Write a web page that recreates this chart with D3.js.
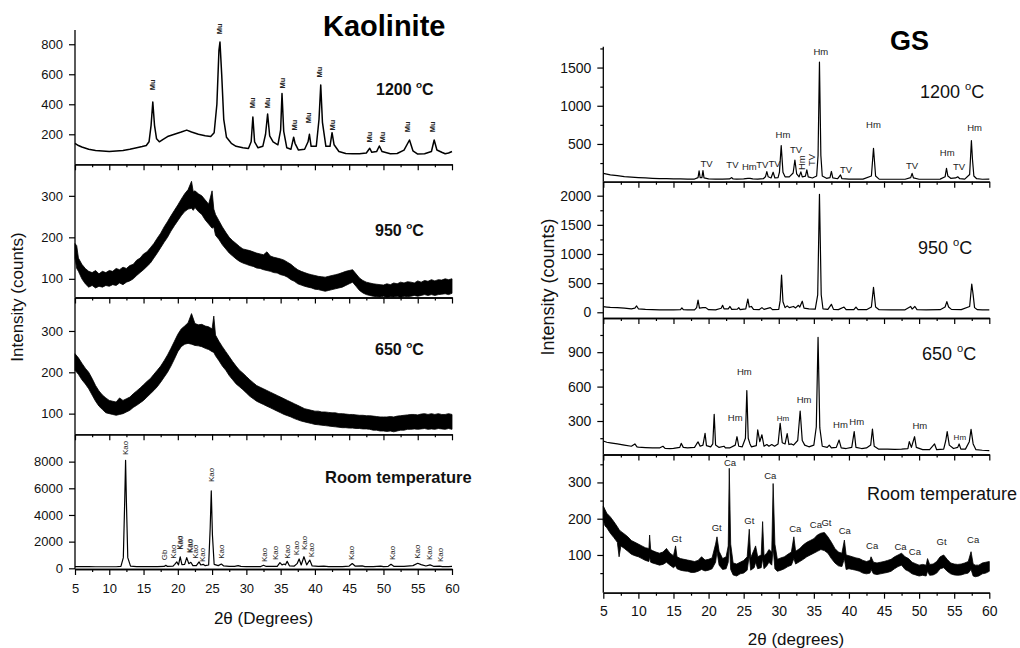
<!DOCTYPE html>
<html>
<head>
<meta charset="utf-8">
<script src="https://cdn.jsdelivr.net/npm/d3@7"></script>
<style>
  body { margin: 0; background: #fff; }
  text { font-family: Arial, "Liberation Sans", sans-serif; }
</style>
</head>
<body>
<svg id="chart" width="1020" height="648"></svg>
<script>
// ---- data (2theta in degrees, intensity in counts) ----
const xMajor = [5, 10, 15, 20, 25, 30, 35, 40, 45, 50, 55, 60];
const xMinor = [7.5, 12.5, 17.5, 22.5, 27.5, 32.5, 37.5, 42.5, 47.5, 52.5, 57.5];

// Kaolinite 1200 C
const kao1200 = [[5,140],[5.5,125],[6,115],[7,100],[8,92],[9,88],[10,85],[11,88],[12,92],[13,100],[14,110],[14.8,118],[15.4,125],[15.8,150],[16.1,260],[16.35,415],[16.6,260],[16.9,170],[17.3,150],[17.8,165],[18.5,185],[19.5,200],[20.5,215],[21.3,228],[22,215],[23,200],[24,190],[24.8,185],[25.3,210],[25.7,400],[26.0,760],[26.15,815],[26.4,600],[26.7,300],[27.1,180],[27.8,140],[28.5,120],[29.5,110],[30.3,105],[30.7,150],[30.95,315],[31.2,150],[31.7,110],[32.4,120],[32.8,200],[33.1,335],[33.4,190],[33.9,150],[34.6,130],[35.0,230],[35.2,472],[35.45,220],[35.9,110],[36.5,100],[36.9,180],[37.1,140],[37.6,95],[38.5,100],[39.0,150],[39.2,200],[39.45,120],[40.2,120],[40.6,300],[40.85,528],[41.1,280],[41.6,120],[42.2,120],[42.5,211],[42.8,130],[43.5,85],[44.5,72],[45.5,70],[46.5,70],[47.5,75],[48.0,107],[48.3,80],[49.0,85],[49.4,122],[49.8,85],[51,70],[52,72],[53,95],[53.8,162],[54.3,90],[55,68],[56,70],[57,85],[57.4,162],[57.8,95],[58.5,80],[59,70],[59.5,75],[60,85]];
const kao1200Labels = [[16.25,529,'Mu'],[26.15,902,'Mu'],[30.95,409,'Mu'],[33.1,409,'Mu'],[35.2,542,'Mu'],[37.0,262,'Mu'],[39.1,309,'Mu'],[40.7,615,'Mu'],[42.6,262,'Mu'],[48.0,182,'Mu'],[49.8,182,'Mu'],[53.5,249,'Mu'],[57.2,249,'Mu']];

// Kaolinite 950 C : noisy band [x, low, high]
const kao950 = [[5,150,185],[5.25,125,180],[5.5,118,150],[6,100,135],[6.5,88,125],[7,80,118],[7.5,84,115],[8,78,120],[8.5,82,112],[9,80,118],[9.5,84,115],[10,82,120],[10.5,86,118],[11,84,125],[11.5,90,122],[12,86,128],[12.5,92,125],[13,95,132],[13.5,100,135],[14,108,145],[14.5,115,150],[15,122,160],[15.5,130,165],[16,138,175],[16.5,150,185],[17,162,198],[17.5,175,210],[18,188,225],[18.5,200,238],[19,215,252],[19.5,228,265],[20,240,278],[20.5,252,292],[21,262,305],[21.5,268,315],[22,270,335],[22.25,265,310],[22.5,272,312],[23,262,305],[23.5,255,300],[24,242,290],[24.5,232,280],[25,222,312],[25.25,225,268],[25.5,205,255],[26,195,240],[26.5,182,225],[27,172,212],[27.5,162,200],[28,155,192],[28.5,148,185],[29,142,178],[29.5,138,172],[30,135,170],[30.5,132,168],[31,130,165],[31.5,126,162],[32,125,160],[32.5,122,158],[33,120,165],[33.5,118,155],[34,115,152],[34.5,114,150],[35,110,148],[35.5,108,145],[36,104,140],[36.5,98,135],[37,94,128],[37.5,88,122],[38,85,118],[38.5,82,115],[39,80,112],[39.5,78,110],[40,75,108],[40.5,74,106],[41,72,105],[41.5,70,104],[42,72,106],[42.5,74,108],[43,76,110],[43.5,78,112],[44,80,115],[44.5,84,118],[45,88,120],[45.5,92,122],[46,82,112],[46.5,72,102],[47,66,96],[47.5,62,92],[48,60,90],[48.5,58,88],[49,57,87],[49.5,56,86],[50,58,85],[50.5,55,88],[51,57,86],[51.5,56,90],[52,58,88],[52.5,55,92],[53,58,90],[53.5,57,93],[54,58,92],[54.5,60,90],[55,58,95],[55.5,60,92],[56,62,96],[56.5,60,94],[57,62,98],[57.5,60,95],[58,62,98],[58.5,63,97],[59,64,100],[59.5,62,98],[60,65,100]];

// Kaolinite 650 C : noisy band [x, low, high]
const kao650 = [[5,205,245],[5.5,195,235],[6,182,222],[6.5,172,210],[7,160,200],[7.5,145,185],[8,130,168],[8.5,118,155],[9,110,145],[9.5,102,138],[10,100,132],[10.5,98,130],[11,96,128],[11.5,98,138],[12,100,132],[12.5,104,136],[13,108,140],[13.5,115,148],[14,120,155],[14.5,126,162],[15,132,170],[15.5,140,178],[16,148,185],[16.5,156,195],[17,165,205],[17.5,176,215],[18,188,228],[18.5,200,242],[19,215,258],[19.5,232,275],[20,250,292],[20.5,262,305],[21,268,312],[21.5,270,320],[22,268,342],[22.5,265,318],[23,264,315],[23.5,262,316],[24,258,312],[24.5,255,310],[25,250,305],[25.25,248,336],[25.5,240,290],[26,228,275],[26.5,215,262],[27,205,250],[27.5,192,238],[28,182,226],[28.5,172,215],[29,165,205],[29.5,158,198],[30,150,190],[30.5,142,182],[31,136,175],[31.5,130,168],[32,126,164],[32.5,122,160],[33,118,156],[33.5,114,152],[34,110,148],[34.5,106,144],[35,102,140],[35.5,98,136],[36,95,132],[36.5,92,128],[37,88,124],[37.5,85,120],[38,82,116],[38.5,80,112],[39,78,110],[39.5,76,108],[40,74,106],[40.5,73,106],[41,72,104],[41.5,71,104],[42,70,103],[42.5,69,102],[43,68,102],[43.5,67,100],[44,66,100],[44.5,66,99],[45,65,98],[45.5,65,98],[46,64,97],[46.5,64,96],[47,63,96],[47.5,63,95],[48,62,95],[48.5,60,94],[49,60,93],[49.5,58,92],[50,58,92],[50.5,57,92],[51,58,93],[51.5,56,92],[52,58,94],[52.5,60,95],[53,60,96],[53.5,62,97],[54,62,98],[54.5,63,98],[55,62,97],[55.5,63,99],[56,64,100],[56.5,62,98],[57,63,100],[57.5,62,98],[58,64,100],[58.5,63,98],[59,62,98],[59.5,64,100],[60,62,98]];

// Kaolinite room temperature
const kaoRT = [[5,130],[6,125],[7,120],[8,115],[9,115],[10,115],[11,118],[11.7,140],[12.05,800],[12.25,5000],[12.38,8100],[12.5,5000],[12.7,800],[13.1,160],[14,130],[15,125],[16,125],[17,130],[18.0,140],[18.25,220],[18.5,140],[19.3,160],[19.55,300],[19.85,480],[20.1,250],[20.35,860],[20.6,280],[21.0,300],[21.3,800],[21.6,350],[21.9,450],[22.2,200],[22.7,200],[23.1,480],[23.35,250],[23.7,300],[24.0,200],[24.5,250],[24.72,3000],[24.88,5800],[25.05,2500],[25.3,300],[25.9,200],[26.35,320],[26.7,180],[27.5,150],[28.3,150],[28.8,200],[29.2,140],[30,130],[31,130],[32.1,130],[32.5,230],[32.9,140],[34,140],[34.5,150],[34.9,420],[35.2,260],[35.5,320],[35.7,260],[35.95,520],[36.3,180],[37,170],[37.4,350],[37.7,700],[38.0,250],[38.4,870],[38.8,260],[39.25,620],[39.6,180],[40.5,140],[41.3,160],[42,130],[44,130],[45.0,170],[45.45,360],[45.9,160],[46.9,180],[47.3,130],[48.5,130],[49.6,170],[50,130],[50.7,150],[51.1,300],[51.5,150],[53,140],[54.3,200],[55.0,380],[55.5,280],[56.2,170],[56.8,260],[57.3,150],[58.2,170],[58.6,130],[59.5,130],[60,140]];
const kaoRTLabels = [[12.4,9022,'Kao'],[18.0,1000,'Gb'],[19.4,1245,'Kao'],[20.3,1920,'Kao'],[20.4,1920,'Kao'],[21.7,1672,'Kao'],[21.8,1672,'Kao'],[22.65,1245,'Kao'],[23.6,1000,'Kao'],[24.85,7000,'Kao'],[26.4,1245,'Kao'],[32.6,1000,'Kao'],[34.3,1150,'Kao'],[36.0,1245,'Kao'],[37.3,1520,'Kao'],[38.45,1900,'Kao'],[39.5,1370,'Kao'],[45.4,1150,'Kao'],[51.35,1150,'Kao'],[54.9,1245,'Kao'],[56.7,1150,'Kao'],[58.35,1000,'Kao']];

// GS 1200 C
const gs1200 = [[5,116],[5.5,105],[6,95],[7,85],[8,72],[9,65],[10,60],[11,55],[12,50],[13,47],[14,45],[15,42],[16,42],[17,41],[18,41],[18.5,60],[18.65,147],[18.8,60],[19.05,60],[19.2,150],[19.35,55],[20,42],[21,40],[22,40],[23,42],[23.3,60],[23.5,42],[24,40],[25,42],[25.6,50],[25.9,50],[26.3,42],[27,40],[27.8,45],[28.1,70],[28.3,138],[28.5,70],[28.9,55],[29.2,130],[29.45,55],[29.9,60],[30.1,130],[30.35,478],[30.6,130],[30.9,70],[31.5,70],[32.05,120],[32.3,290],[32.55,110],[32.9,70],[33.15,135],[33.35,70],[33.8,80],[34.0,160],[34.2,70],[34.8,55],[35.4,80],[35.6,350],[35.8,1570],[36.0,350],[36.2,80],[36.8,50],[37.3,60],[37.5,140],[37.7,55],[38.4,45],[38.8,95],[39.0,45],[40,40],[41,40],[42,40],[43.2,80],[43.5,443],[43.8,80],[44.3,40],[46,38],[48,38],[48.8,60],[49.0,115],[49.2,55],[50,38],[52,38],[53,40],[53.7,70],[53.9,182],[54.1,80],[54.5,50],[55.2,55],[55.5,70],[55.8,45],[56.5,40],[57.2,100],[57.45,543],[57.6,300],[57.8,80],[58.2,45],[59,38],[60,40]];
const gs1200Labels = [[19.7,247,'TV'],[23.4,225,'TV'],[25.8,203,'Hm'],[27.65,225,'TV'],[29.4,247,'TV'],[30.6,627,'Hm'],[32.45,431,'TV'],[36.0,1708,'Hm'],[39.6,169,'TV'],[43.5,749,'Hm'],[49.0,212,'TV'],[54.0,386,'Hm'],[55.7,203,'TV'],[57.9,713,'Hm']];
const gs1200VLabels = [[33.3,255,'Hm'],[34.7,291,'TV']];

// GS 950 C
const gs950 = [[5,96],[5.5,90],[6,85],[7,79],[8,70],[9,60],[9.5,70],[9.75,108],[10,60],[11,50],[12,45],[13,42],[14,42],[15,42],[16,45],[16.2,75],[16.4,45],[17,40],[18,42],[18.3,80],[18.5,211],[18.7,70],[19.2,80],[19.6,80],[20,45],[21,42],[21.8,70],[22.0,120],[22.2,60],[22.8,60],[23.05,100],[23.3,50],[24.1,55],[24.3,80],[24.5,45],[25.3,60],[25.6,228],[25.8,90],[26.1,100],[26.4,50],[27.2,45],[27.6,80],[27.9,50],[28.8,80],[29.1,45],[30,50],[30.2,200],[30.4,640],[30.6,180],[30.9,80],[31.2,110],[31.5,80],[32.1,100],[32.4,75],[32.8,120],[33.0,90],[33.35,190],[33.6,70],[34.3,60],[35.2,55],[35.55,300],[35.8,2025],[36.05,300],[36.3,60],[37.0,50],[37.5,137],[37.8,50],[38.5,45],[39.3,90],[39.6,45],[40.7,45],[41.0,90],[41.3,45],[42.5,45],[43.2,90],[43.5,428],[43.8,90],[44.3,45],[46,42],[48,42],[48.8,100],[49.0,55],[49.4,100],[49.7,45],[51,42],[53,45],[53.7,90],[53.95,182],[54.2,90],[54.6,50],[56,45],[57.2,100],[57.5,485],[57.7,300],[57.9,80],[58.3,45],[59,42],[60,42]];

// GS 650 C
const gs650 = [[5,126],[5.5,115],[6,110],[7,100],[8,90],[9,80],[9.5,100],[9.8,75],[10,72],[11,68],[12,65],[13,65],[13.5,80],[13.8,62],[14.5,60],[15,62],[15.9,70],[16.1,105],[16.4,70],[17,65],[18,70],[18.3,100],[18.5,118],[18.8,80],[19.2,90],[19.5,192],[19.7,85],[20.3,75],[20.6,100],[20.8,358],[21.0,90],[21.5,70],[22.2,80],[22.4,65],[23.0,65],[23.8,90],[24.05,163],[24.3,80],[24.8,75],[25.25,150],[25.45,565],[25.65,150],[25.9,100],[26.1,75],[26.8,85],[27.0,222],[27.3,120],[27.6,180],[27.9,80],[28.3,95],[28.6,80],[29.0,95],[29.4,80],[29.9,100],[30.2,280],[30.5,110],[30.9,100],[31.2,190],[31.45,95],[31.8,100],[32.1,90],[32.7,130],[33.05,387],[33.35,130],[33.7,90],[34.3,75],[35.0,90],[35.35,250],[35.6,1030],[35.85,240],[36.2,80],[36.9,70],[37.2,90],[37.5,65],[38.2,70],[38.6,134],[38.9,65],[39.6,60],[40.4,70],[40.75,207],[41.0,70],[41.8,60],[42.5,65],[43.1,90],[43.35,230],[43.6,80],[44.2,55],[45.5,55],[46.5,52],[47.5,55],[48.4,60],[48.6,120],[48.9,70],[49.35,163],[49.6,70],[50.5,50],[51.5,50],[52.2,100],[52.5,50],[53.5,55],[53.8,130],[54.0,207],[54.3,90],[54.9,60],[55.5,70],[55.7,100],[55.95,55],[56.6,55],[57.15,120],[57.4,227],[57.7,100],[58.1,50],[59,45],[60,42]];
const gs650Labels = [[25.1,730,'Hm'],[23.8,329,'Hm'],[33.6,489,'Hm'],[38.8,271,'Hm'],[41.1,300,'Hm'],[50.1,259,'Hm']];
const gs650SmallLabels = [[30.6,324,'Hm'],[55.8,158,'Hm']];

// GS room temperature : noisy band [x, low, high]
const gsRT = [[5,195,235],[5.25,180,225],[5.5,175,215],[6,160,205],[6.5,148,192],[7,135,178],[7.25,95,170],[7.5,125,165],[8,118,158],[8.5,110,150],[9,102,140],[9.5,98,135],[10,95,130],[10.5,90,125],[11,85,120],[11.5,82,118],[11.6,95,155],[11.75,80,115],[12,78,112],[12.5,75,108],[13,72,105],[13.5,74,108],[14,80,118],[14.5,72,105],[15,65,98],[15.3,70,125],[15.5,62,95],[16,58,90],[16.5,56,88],[17,55,86],[17.5,52,84],[18,52,82],[18.5,55,85],[19,60,95],[19.5,56,86],[20,58,88],[20.5,62,92],[21,80,130],[21.2,110,150],[21.5,72,110],[22,60,90],[22.5,62,95],[22.8,80,125],[22.95,140,339],[23.15,60,130],[23.5,45,78],[24,42,75],[24.5,48,80],[25,50,85],[25.5,58,95],[25.8,100,171],[26.0,58,92],[26.5,65,115],[26.7,80,125],[27,62,95],[27.5,65,100],[27.7,90,192],[27.9,62,98],[28.3,70,105],[28.6,80,115],[29,72,108],[29.2,120,297],[29.45,62,130],[29.8,55,88],[30.3,58,92],[30.8,62,95],[31.3,68,102],[31.8,72,108],[32.15,90,150],[32.4,75,110],[33,82,118],[33.5,88,128],[34,95,135],[34.5,100,140],[35,105,145],[35.5,110,155],[36,115,160],[36.5,112,162],[37,105,150],[37.5,90,135],[38,78,118],[38.5,70,108],[39,68,105],[39.35,90,141],[39.6,60,100],[40,62,98],[40.5,60,95],[41,58,92],[41.5,55,90],[42,50,85],[42.5,48,82],[43,50,85],[43.15,60,95],[43.5,48,80],[44,46,78],[44.5,48,80],[45,50,82],[45.5,52,85],[46,55,88],[46.5,62,95],[47,68,100],[47.5,72,105],[48,60,95],[48.5,55,90],[49,48,80],[49.5,45,76],[50,42,72],[50.5,44,74],[51,42,72],[51.2,55,90],[51.5,44,74],[52,45,75],[52.5,50,82],[53,62,95],[53.5,65,100],[54,55,88],[54.5,48,78],[55,45,75],[55.5,44,74],[56,45,75],[56.5,48,78],[57,50,82],[57.4,60,109],[57.7,42,75],[58,40,72],[58.5,42,72],[59,48,78],[59.5,50,80],[60,55,82]];
const gsRTLabels = [[23.05,354,'Ca'],[28.8,320,'Ca'],[15.45,145,'Gt'],[21.15,175,'Gt'],[25.8,194,'Gt'],[32.35,172,'Ca'],[35.3,185,'Ca'],[36.8,190,'Gt'],[39.4,167,'Ca'],[43.3,126,'Ca'],[47.35,123,'Ca'],[49.4,109,'Ca'],[53.2,137,'Gt'],[57.7,144,'Ca']];

// ---- drawing ----
const svg = d3.select('#chart');

function drawPlot(p) {
  const x = d3.scaleLinear().domain([5, 60]).range(p.xr);
  const y = d3.scaleLinear().domain(p.domain).range([p.bottom, p.top]);
  const g = svg.append('g');

  if (p.band) {
    g.append('path').datum(p.band)
      .attr('d', d3.area().x(d => x(d[0])).y0(d => y(d[1])).y1(d => y(d[2])))
      .attr('fill', '#000').attr('stroke', '#000').attr('stroke-width', 0.8);
  } else {
    g.append('path').datum(p.line)
      .attr('d', d3.line().x(d => x(d[0])).y(d => y(d[1])))
      .attr('fill', 'none').attr('stroke', '#000').attr('stroke-width', p.lw || 1.2)
      .attr('stroke-linejoin', 'round');
  }

  // x axis (major + minor)
  g.append('g').attr('transform', `translate(0,${p.bottom})`)
    .call(d3.axisBottom(x).tickValues(xMajor).tickSize(6).tickSizeOuter(0)
      .tickPadding(p.xPad || 3).tickFormat(p.showX ? d3.format('d') : ''));
  g.append('g').attr('transform', `translate(0,${p.bottom})`)
    .call(d3.axisBottom(x).tickValues(xMinor).tickSize(3).tickSizeOuter(0).tickFormat(''));

  // y axis
  const ya = g.append('g').attr('transform', `translate(${p.xr[0]},0)`)
    .call(d3.axisLeft(y).tickValues(p.yTicks).tickSize(6).tickSizeOuter(0)
      .tickPadding(6).tickFormat(d3.format('d')));
  ya.select('.domain').attr('d', `M0,${p.bottom}V${p.top}`);
  if (p.yMinor) {
    g.append('g').attr('transform', `translate(${p.xr[0]},0)`)
      .call(d3.axisLeft(y).tickValues(p.yMinor).tickSize(3).tickSizeOuter(0).tickFormat(''))
      .select('.domain').remove();
  }

  g.selectAll('.domain').attr('stroke', '#000').attr('stroke-width', 1.3);
  g.selectAll('.tick line').attr('stroke', '#000').attr('stroke-width', 1.2);
  g.selectAll('.tick text').attr('fill', '#111').attr('font-size', p.fs)
    .attr('font-family', 'Arial, "Liberation Sans", sans-serif');

  // peak labels
  (p.labels || []).forEach(([lx, ly, txt]) => {
    g.append('text').attr('transform', `translate(${x(lx)},${y(ly)}) rotate(${p.rot ? -90 : 0})`)
      .attr('text-anchor', 'middle').attr('dominant-baseline', 'central')
      .attr('font-size', p.lfs).attr('font-weight', p.lbold ? 'bold' : 'normal')
      .attr('fill', '#222').text(txt);
  });
  (p.vlabels || []).forEach(([lx, ly, txt]) => {
    g.append('text').attr('transform', `translate(${x(lx)},${y(ly)}) rotate(-90)`)
      .attr('text-anchor', 'middle').attr('dominant-baseline', 'central')
      .attr('font-size', p.lfs).attr('fill', '#222').text(txt);
  });
  (p.slabels || []).forEach(([lx, ly, txt]) => {
    g.append('text').attr('transform', `translate(${x(lx)},${y(ly)})`)
      .attr('text-anchor', 'middle').attr('dominant-baseline', 'central')
      .attr('font-size', 8).attr('fill', '#222').text(txt);
  });
}

const LX = [75, 452];
const RX = [603.3, 989.3];

drawPlot({ xr: LX, top: 30, bottom: 164.3, domain: [0, 895], yTicks: [200, 400, 600, 800], fs: 13,
  line: kao1200, lw: 1.5, labels: kao1200Labels, rot: true, lfs: 7.5, lbold: true });
drawPlot({ xr: LX, top: 164.3, bottom: 297.5, domain: [55, 376], yTicks: [100, 200, 300], fs: 13, band: kao950 });
drawPlot({ xr: LX, top: 297.5, bottom: 434.3, domain: [50, 381], yTicks: [100, 200, 300], fs: 13, band: kao650 });
drawPlot({ xr: LX, top: 434.3, bottom: 569, domain: [-52, 10050], yTicks: [0, 2000, 4000, 6000, 8000], fs: 13,
  line: kaoRT, labels: kaoRTLabels, rot: true, lfs: 8, showX: true, xPad: 9 });

drawPlot({ xr: RX, top: 46.7, bottom: 181.7, domain: [6, 1773], yTicks: [500, 1000, 1500],
  yMinor: [250, 750, 1250, 1750], fs: 14, line: gs1200, labels: gs1200Labels, vlabels: gs1200VLabels, lfs: 9.5 });
drawPlot({ xr: RX, top: 181.7, bottom: 318, domain: [-98, 2240], yTicks: [0, 500, 1000, 1500, 2000],
  yMinor: [250, 750, 1250, 1750], fs: 14, line: gs950 });
drawPlot({ xr: RX, top: 318, bottom: 454.5, domain: [8, 1198], yTicks: [300, 600, 900],
  yMinor: [150, 450, 750, 1050], fs: 14, line: gs650, labels: gs650Labels, slabels: gs650SmallLabels, lfs: 9.5 });
drawPlot({ xr: RX, top: 454.5, bottom: 592.7, domain: [-4, 377], yTicks: [100, 200, 300],
  yMinor: [50, 150, 250, 350], fs: 14, band: gsRT, labels: gsRTLabels, lfs: 9.5, showX: true, xPad: 7.4 });

// condition labels
function condLabel(x, y, num, bold, size) {
  const t = svg.append('text').attr('x', x).attr('y', y).attr('font-size', size)
    .attr('font-weight', bold ? 'bold' : 'normal').attr('fill', '#111');
  t.append('tspan').text(num + ' ');
  t.append('tspan').attr('font-size', size * 0.62).attr('dy', -size * 0.42).text('o');
  t.append('tspan').attr('dy', size * 0.42).text('C');
}
condLabel(376, 94.5, '1200', true, 16);
condLabel(375, 235.5, '950', true, 16);
condLabel(375, 354.5, '650', true, 16);
svg.append('text').attr('x', 325).attr('y', 482.5).attr('font-size', 16.5).attr('font-weight', 'bold')
  .attr('fill', '#111').text('Room temperature');

condLabel(920, 97.5, '1200', false, 18);
condLabel(918, 253.5, '950', false, 18);
condLabel(922, 359.5, '650', false, 18);
svg.append('text').attr('x', 867).attr('y', 499.5).attr('font-size', 18).attr('fill', '#111').text('Room temperature');

// titles
svg.append('text').attr('x', 323).attr('y', 36).attr('font-size', 29).attr('font-weight', 'bold').text('Kaolinite');
svg.append('text').attr('x', 890).attr('y', 50).attr('font-size', 27).attr('font-weight', 'bold').text('GS');

// axis titles
svg.append('text').attr('transform', 'translate(23,297) rotate(-90)').attr('text-anchor', 'middle')
  .attr('font-size', 17).attr('fill', '#111').text('Intensity (counts)');
svg.append('text').attr('transform', 'translate(554,287) rotate(-90)').attr('text-anchor', 'middle')
  .attr('font-size', 18).attr('fill', '#111').text('Intensity (counts)');
svg.append('text').attr('x', 263.5).attr('y', 624).attr('text-anchor', 'middle')
  .attr('font-size', 17).attr('fill', '#111').text('2θ (Degrees)');
svg.append('text').attr('x', 796).attr('y', 645).attr('text-anchor', 'middle')
  .attr('font-size', 17).attr('fill', '#111').text('2θ (degrees)');
</script>
</body>
</html>
